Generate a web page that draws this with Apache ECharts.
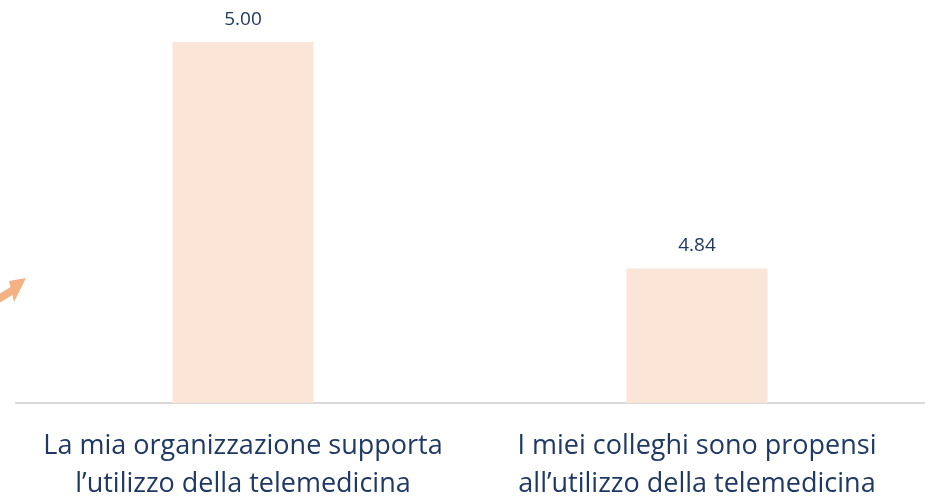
<!DOCTYPE html>
<html>
<head>
<meta charset="utf-8">
<script src="https://cdn.jsdelivr.net/npm/echarts@6/dist/echarts.min.js"></script>
<style>
  html, body { margin: 0; padding: 0; background: #fff; }
  #chart { width: 933px; height: 503px; }
</style>
</head>
<body>
<div id="chart"></div>
<script>
const categories = [
  'La mia organizzazione supporta\nl\u2019utilizzo della telemedicina',
  'I miei colleghi sono propensi\nall\u2019utilizzo della telemedicina'
]
const values = [5.0, 4.84]

const chart = echarts.init(document.getElementById('chart'))

chart.setOption({
  animation: false,
  grid: {
    top: 42,
    left: 16,
    right: 9,
    bottom: 98
  },
  xAxis: {
    type: 'category',
    data: categories,
    axisTick: { show: false },
    axisLine: {
      show: true,
      lineStyle: { color: '#d9d9d9', width: 2 }
    },
    axisLabel: {
      interval: 0,
      margin: 24,
      fontFamily: 'Open Sans',
      fontSize: 27,
      lineHeight: 38,
      color: '#1f3864'
    }
  },
  yAxis: {
    type: 'value',
    min: 4.745,
    max: 5.0,
    show: false,
    splitLine: { show: false }
  },
  // little orange arrow on the left edge
  graphic: [
    {
      type: 'polygon',
      shape: {
        points: [[0, 293.5], [10.5, 287], [9, 281], [26, 278], [14, 302], [12.5, 295], [0, 302.5]]
      },
      style: { fill: '#f4b183' }
    }
  ],
  series: [
    {
      type: 'bar',
      data: values,
      barWidth: 141,
      itemStyle: { color: '#fbe5d6' },
      label: {
        show: true,
        position: 'top',
        distance: 13,
        formatter: (p) => p.value.toFixed(2),
        fontFamily: 'Open Sans',
        fontSize: 19,
        color: '#1f3864'
      }
    }
  ]
})
</script>
</body>
</html>
